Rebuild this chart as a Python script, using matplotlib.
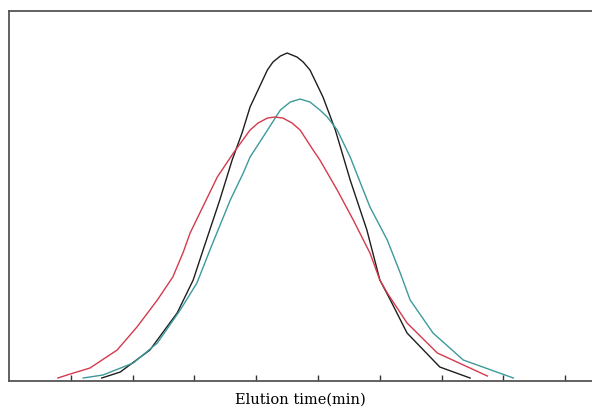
import matplotlib
matplotlib.use("Agg")
from matplotlib import pyplot as plt

# elution profiles (x in tick units, y in arbitrary intensity)
black_x = [1.50, 1.80, 2.28, 2.72, 2.98, 3.14, 3.41, 3.61, 3.77, 3.90, 4.18, 4.27, 4.39, 4.50,
           4.66, 4.76, 4.87, 5.08, 5.28, 5.52, 5.79, 6.00, 6.17, 6.44, 6.97, 7.46]
black_y = [3, 9, 31, 68, 101, 131, 181, 221, 248, 274, 311, 319, 325, 328,
           324, 319, 311, 284, 251, 201, 151, 101, 81, 48, 14, 3]

teal_x = [1.20, 1.52, 2.01, 2.40, 2.77, 3.04, 3.27, 3.58, 3.79, 3.90, 4.11, 4.39, 4.55,
          4.71, 4.87, 5.03, 5.15, 5.31, 5.52, 5.84, 6.12, 6.33, 6.49, 6.86, 7.35, 8.16]
teal_y = [3, 6, 18, 38, 71, 98, 134, 181, 208, 224, 244, 271, 279,
          282, 279, 271, 264, 251, 224, 174, 141, 108, 81, 48, 21, 3]

red_x = [0.79, 0.99, 1.31, 1.75, 2.07, 2.40, 2.65, 2.82, 2.93, 3.37, 3.63, 3.90, 4.03, 4.18,
         4.30, 4.43, 4.58, 4.71, 4.92, 5.03, 5.31, 5.57, 5.84, 6.00, 6.12, 6.44, 6.93, 7.74]
red_y = [3, 7, 13, 31, 54, 81, 104, 129, 148, 204, 228, 251, 258, 263,
         264, 263, 258, 251, 231, 221, 191, 161, 128, 101, 88, 58, 28, 5]

ticks = [1, 2, 3, 4, 5, 6, 7, 8, 9]

fig = plt.figure(figsize=(5.92, 4.12), dpi=100)
ax = fig.add_axes([0.0152, 0.0752, 0.985, 0.898])

ax.plot(black_x, black_y, color='#1e1e1e', lw=1.0)
ax.plot(teal_x, teal_y, color='#3c9a9a', lw=1.0)
ax.plot(red_x, red_y, color='#d43a4c', lw=1.0)

ax.set_xlim(0, 9.434)
ax.set_ylim(0, 370)
ax.set_xticks(ticks)
ax.set_xticklabels([])
ax.set_yticks([])
ax.tick_params(axis='x', direction='in', length=4.5, width=1.0, color='#333333')

for s in ['left', 'top', 'bottom']:
    ax.spines[s].set_color('#555555')
    ax.spines[s].set_linewidth(1.3)
ax.spines['right'].set_visible(False)

ax.set_xlabel('Elution time(min)', fontsize=10.5, family='DejaVu Serif', labelpad=5)

fig.savefig('out.png', dpi=100)
